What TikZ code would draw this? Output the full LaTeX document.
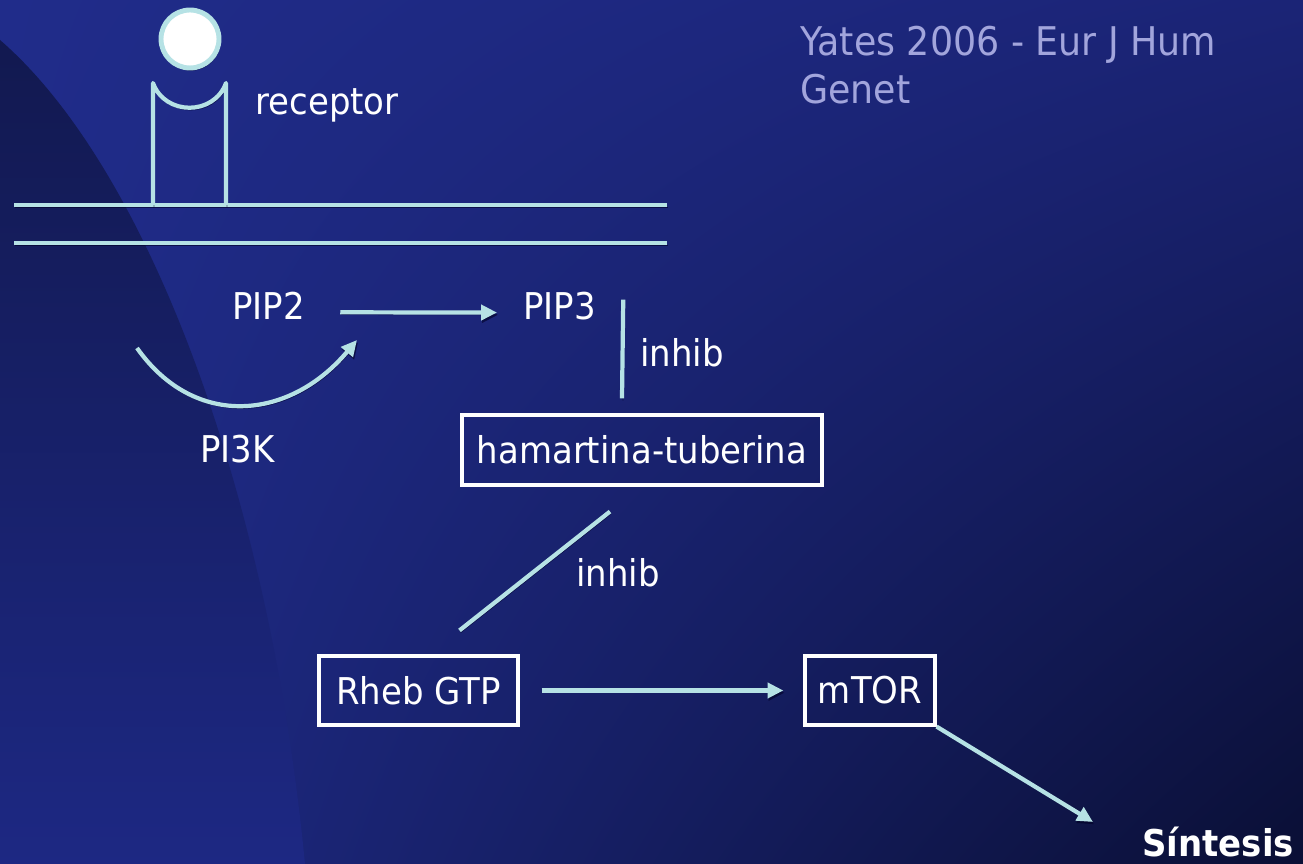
\documentclass[tikz,border=0pt]{standalone}
\usepackage{fontspec}
\setmainfont{DejaVu Sans}[FakeStretch=0.92]
\usepackage{tikz}
\usetikzlibrary{positioning, arrows.meta, calc, shadings}
\usepackage{xcolor}
\definecolor{bgUL}{HTML}{202C8A}
\definecolor{bgUR}{HTML}{1B2476}
\definecolor{bgLL}{HTML}{1F2B88}
\definecolor{bgLR}{HTML}{0A0F35}
\definecolor{darkTop}{HTML}{121950}
\definecolor{darkBot}{HTML}{1D2883}
\definecolor{wirecol}{RGB}{182,226,229}
\definecolor{refcol}{HTML}{A2A5DC}
\tikzset{shadowed/.style={preaction={draw=black!85!blue, opacity=0.6, transform canvas={shift={(0.6pt,-1.3pt)}}}}}

\begin{document}
\begin{tikzpicture}[x=0.02cm, y=-0.02cm, every node/.style={font=\fontsize{21pt}{25pt}\selectfont, text=white, inner sep=0pt}]
  \tikzstyle{txt} = [anchor=base west]
  \tikzstyle{box} = [rectangle, draw=white, line width=1.8pt, text centered]
  \tikzstyle{wire} = [draw=wirecol, line width=2.4pt, shadowed]
  \tikzstyle{arrow} = [wire, -{Triangle[length=9pt,width=8.5pt]}]

  % background
  \useasboundingbox (0,0) rectangle (1303,864);
  \shade[upper left=bgUL, upper right=bgUR, lower left=bgLL, lower right=bgLR] (0,0) rectangle (1303,864);
  \shade[top color=darkTop, bottom color=darkBot] (0,40) .. controls (150,170) and (270,500) .. (305,864) -- (0,864) -- cycle;

  % membrane and receptor
  \draw[wire] (14,205) -- (667,205);
  \draw[wire] (14,243) -- (667,243);
  \draw[wire, line join=round] (153,205) -- (153,83) .. controls (165,116) and (214,116) .. (226,83) -- (226,205);
  \draw[wire, line width=2.8pt, fill=white] (190,39) circle (0.58cm);

  \node (rec) [txt] at (255,115) {receptor};
  \node (pip2) [txt] at (232,320) {PIP2};
  \node (pip3) [txt] at (523,320) {PIP3};
  \node (inh1) [txt] at (640,367) {inhib};
  \node (pi3k) [txt] at (200,463) {PI3K};
  \node (ham) [box, minimum width=7.2cm, minimum height=1.4cm] at (642,450) {hamartina-tuberina};
  \node (inh2) [txt] at (576,587) {inhib};
  \node (rheb) [box, minimum width=3.98cm, minimum height=1.38cm] at (418.5,690.5) {Rheb GTP};
  \node (mtor) [box, minimum width=2.6cm, minimum height=1.38cm] at (870,690.5) {mTOR};
  \node (sint) [txt, font=\fontsize{21pt}{25pt}\selectfont\bfseries] at (1142,857) {Síntesis};
  \node (ref) [anchor=north west, align=left, text=refcol, font=\fontsize{22.5pt}{27pt}\selectfont] at (800,26) {Yates 2006 - Eur J Hum\\Genet};

  % connectors
  \coordinate (k-in) at (137,348);
  \coordinate (k-out) at (357,340);
  \coordinate (sint-in) at (1093,822);
  \draw[arrow] ([shift={(35,6)}]pip2.east) -- ([shift={(-26,6)}]pip3.west);
  \draw[arrow] (k-in) .. controls (195,430) and (290,420) .. (k-out);
  \draw[wire] ([shift={(27,-7)}]pip3.east) -- ([shift={(-20,-15)}]ham.north);
  \draw[wire] ([shift={(-32,25)}]ham.south) -- ([shift={(41,-24)}]rheb.north);
  \draw[arrow] ([shift={(22,0)}]rheb.east) -- ([shift={(-20,0)}]mtor.west);
  \draw[arrow] (mtor.south east) -- (sint-in);
\end{tikzpicture}
\end{document}
